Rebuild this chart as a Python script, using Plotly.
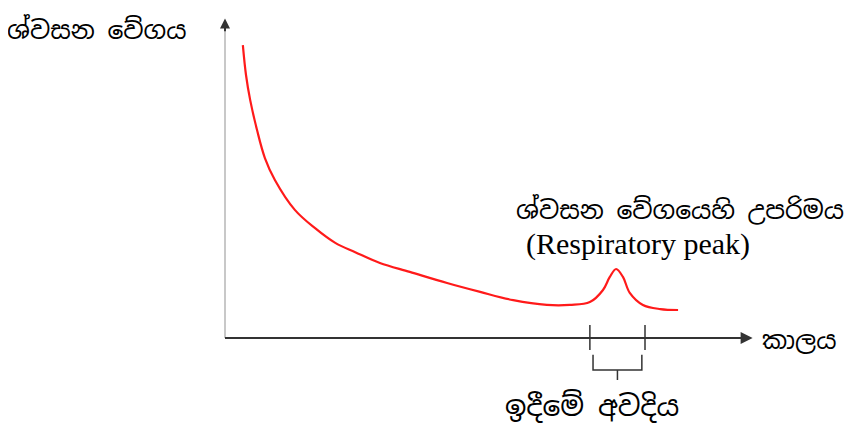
import plotly.graph_objects as go

# Curve data: time (arbitrary units) vs respiration rate (arbitrary units)
time = [3.4, 4.0, 4.8, 6.1, 7.6, 9.5, 13.3, 17.1, 21.0, 24.8, 29.5, 35.2, 42.3, 48.6,
        54.9, 61.3, 65.7, 69.5, 72.0, 73.3, 74.5, 75.8, 77.1, 79.6, 82.9, 86.3]
rate = [92.1, 82.7, 74.8, 65.4, 56.6, 49.7, 40.3, 34.6, 29.9, 27.0, 23.6, 20.8, 17.3, 14.5,
        11.9, 10.4, 10.4, 11.3, 15.1, 19.2, 21.7, 19.2, 14.2, 10.4, 9.1, 8.8]

# Ripening period markers on the time axis
ripening_start = 69.5
ripening_end = 80.0

y_label = "ශ්වසන වේගය"
x_label = "කාලය"
peak_label = "ශ්වසන වේගයෙහි උපරිමය"
peak_label_en = "(Respiratory peak)"
period_label = "ඉදීමේ අවදිය"

SIN_FONT = "Noto Sans Sinhala, Iskoola Pota, Noto Sans, sans-serif"

# page has an 8px body margin; figure is sized/offset to compensate
W, H = 844, 415
X0_PX, Y0_PX = 217, 330      # pixel position of data origin inside the figure
SX, SY = 5.25, 3.18          # pixels per data unit

fig = go.Figure()
fig.add_trace(go.Scatter(x=time, y=rate, mode="lines",
                         line=dict(color="#ff1a1a", width=2.2, shape="spline"),
                         hoverinfo="skip", showlegend=False))

shapes = []
# y axis (light gray)
shapes.append(dict(type="line", xref="x", yref="y", x0=0, x1=0, y0=0, y1=98,
                   line=dict(color="#c8c8c8", width=2)))
# x axis (dark)
shapes.append(dict(type="line", xref="x", yref="y", x0=0, x1=99, y0=0, y1=0,
                   line=dict(color="#333333", width=2)))
# ticks for ripening period
for xv in [ripening_start, ripening_end]:
    shapes.append(dict(type="line", xref="x", yref="y", x0=xv, x1=xv, y0=4.1, y1=-3.8,
                       line=dict(color="#333333", width=1.5)))
# bracket
bl = ripening_start + 0.6
br = ripening_end - 0.6
bm = (ripening_start + ripening_end) / 2
shapes.append(dict(type="path", xref="x", yref="y",
                   path=f"M {bl} -5.3 L {bl} -10.1 L {br} -10.1 L {br} -5.3",
                   line=dict(color="#333333", width=1.5)))
shapes.append(dict(type="line", xref="x", yref="y", x0=bm, x1=bm, y0=-10.1, y1=-13.2,
                   line=dict(color="#333333", width=1.5)))

annotations = [
    # x axis arrowhead
    dict(x=100.5, y=0, ax=96, ay=0, xref="x", yref="y", axref="x", ayref="y",
         showarrow=True, arrowhead=2, arrowsize=1.2, arrowwidth=2, arrowcolor="#333333", text=""),
    # y axis arrowhead
    dict(x=0, y=100.5, ax=0, ay=96, xref="x", yref="y", axref="x", ayref="y",
         showarrow=True, arrowhead=2, arrowsize=1.0, arrowwidth=2, arrowcolor="#333333", text=""),
    dict(x=-24.4, y=96.9, xref="x", yref="y", text=y_label, showarrow=False,
         font=dict(family=SIN_FONT, size=25, color="black")),
    dict(x=86.7, y=40.3, xref="x", yref="y", text=peak_label, showarrow=False,
         font=dict(family=SIN_FONT, size=25, color="black")),
    dict(x=78.7, y=29.6, xref="x", yref="y", text=peak_label_en, showarrow=False,
         font=dict(family="Liberation Serif, Times New Roman, serif", size=30, color="black")),
    dict(x=109.5, y=-0.6, xref="x", yref="y", text=x_label, showarrow=False,
         font=dict(family=SIN_FONT, size=25, color="black")),
    dict(x=69.9, y=-21.4, xref="x", yref="y", text=period_label, showarrow=False,
         font=dict(family=SIN_FONT, size=28, color="black")),
]

fig.update_layout(
    width=W, height=H,
    margin=dict(l=0, r=0, t=0, b=0),
    paper_bgcolor="white", plot_bgcolor="white",
    xaxis=dict(range=[-X0_PX / SX, (W - X0_PX) / SX], visible=False, fixedrange=True),
    yaxis=dict(range=[-(H - Y0_PX) / SY, Y0_PX / SY], visible=False, fixedrange=True),
    shapes=shapes, annotations=annotations,
)

fig.write_html("out.html")
